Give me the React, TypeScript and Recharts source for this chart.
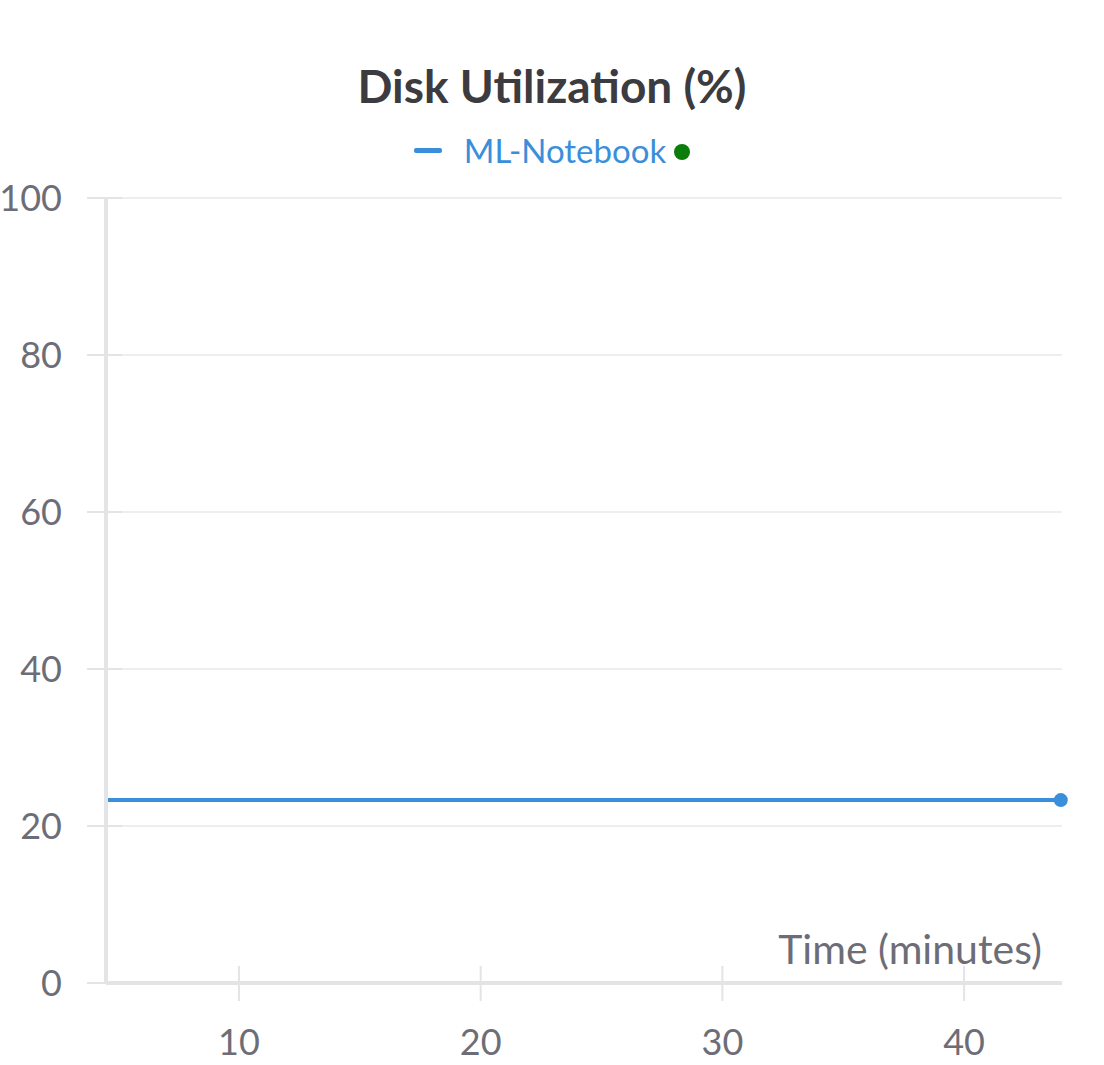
import React from 'react';
import { LineChart, Line, XAxis, YAxis, CartesianGrid } from 'recharts';

const minutes = [4.5, 10, 15, 20, 25, 30, 35, 40, 44];
const diskUsage = [23.3, 23.3, 23.3, 23.3, 23.3, 23.3, 23.3, 23.3, 23.3];
const xTicks = [10, 20, 30, 40];
const yTicks = [0, 20, 40, 60, 80, 100];

const data = minutes.map((t, i) => ({ t, v: diskUsage[i] }));

const FONT = 'Lato, "Noto Sans", sans-serif';
const AXIS = '#e4e4e6';
const TEXT = '#6d6d78';
const BLUE = '#3a8fdb';

const YTick = (props: any) => {
  const { x, y, payload } = props;
  return (
    <g>
      <line x1={x - 19} x2={x + 16} y1={y} y2={y} stroke={AXIS} strokeWidth={2} />
      <text x={x - 44} y={y + 13} textAnchor="end" fill={TEXT} fontSize={36} fontFamily={FONT}>
        {payload.value}
      </text>
    </g>
  );
};

const XTick = (props: any) => {
  const { x, y, payload } = props;
  return (
    <g>
      <line x1={x} x2={x} y1={y - 17} y2={y + 18} stroke={AXIS} strokeWidth={2} />
      <text x={x} y={y + 72} textAnchor="middle" fill={TEXT} fontSize={36} fontFamily={FONT}>
        {payload.value}
      </text>
    </g>
  );
};

const LastDot = (props: any) => {
  const { cx, cy, index } = props;
  if (index !== data.length - 1) return <g key={`d${index}`} />;
  return <circle key={`d${index}`} cx={cx} cy={cy} r={7} fill={BLUE} />;
};

export default function App() {
  return (
    <div style={{ position: 'absolute', left: 0, top: 0, width: 1104, height: 1065, background: '#fff', fontFamily: FONT }}>
      <div style={{ position: 'absolute', top: 58, left: 0, width: 1104, textAlign: 'center', fontSize: 46, fontWeight: 700, color: '#3b3b40', lineHeight: '56px' }}>
        Disk Utilization (%)
      </div>
      <div style={{ position: 'absolute', top: 130, left: 0, width: 1104, display: 'flex', justifyContent: 'center', alignItems: 'center' }}>
        <div style={{ width: 28, height: 5, borderRadius: 2, background: BLUE, marginRight: 22 }} />
        <span style={{ fontSize: 33, color: BLUE }}>ML-Notebook</span>
        <div style={{ width: 16, height: 16, borderRadius: 8, background: '#0a7d0a', marginLeft: 8, marginTop: 4 }} />
      </div>
      <LineChart width={1104} height={1065} data={data} margin={{ top: 198, right: 42, left: 105, bottom: 81 }}>
        <CartesianGrid vertical={false} stroke="#e8e8ea" strokeWidth={1.5} />
        <XAxis
          dataKey="t"
          type="number"
          domain={[4.5, 44.05]}
          ticks={xTicks}
          height={1}
          tickSize={0}
          tickMargin={0}
          tickLine={false}
          tick={<XTick />}
          axisLine={{ stroke: AXIS, strokeWidth: 4 }}
        />
        <YAxis
          type="number"
          domain={[0, 100]}
          ticks={yTicks}
          width={1}
          tickSize={0}
          tickMargin={0}
          tickLine={false}
          tick={<YTick />}
          axisLine={{ stroke: AXIS, strokeWidth: 4 }}
        />
        <Line
          type="linear"
          dataKey="v"
          stroke={BLUE}
          strokeWidth={4}
          dot={LastDot}
          activeDot={false}
          isAnimationActive={false}
        />
      </LineChart>
      <div style={{ position: 'absolute', top: 924, right: 62, fontSize: 41, color: TEXT }}>
        Time (minutes)
      </div>
    </div>
  );
}
